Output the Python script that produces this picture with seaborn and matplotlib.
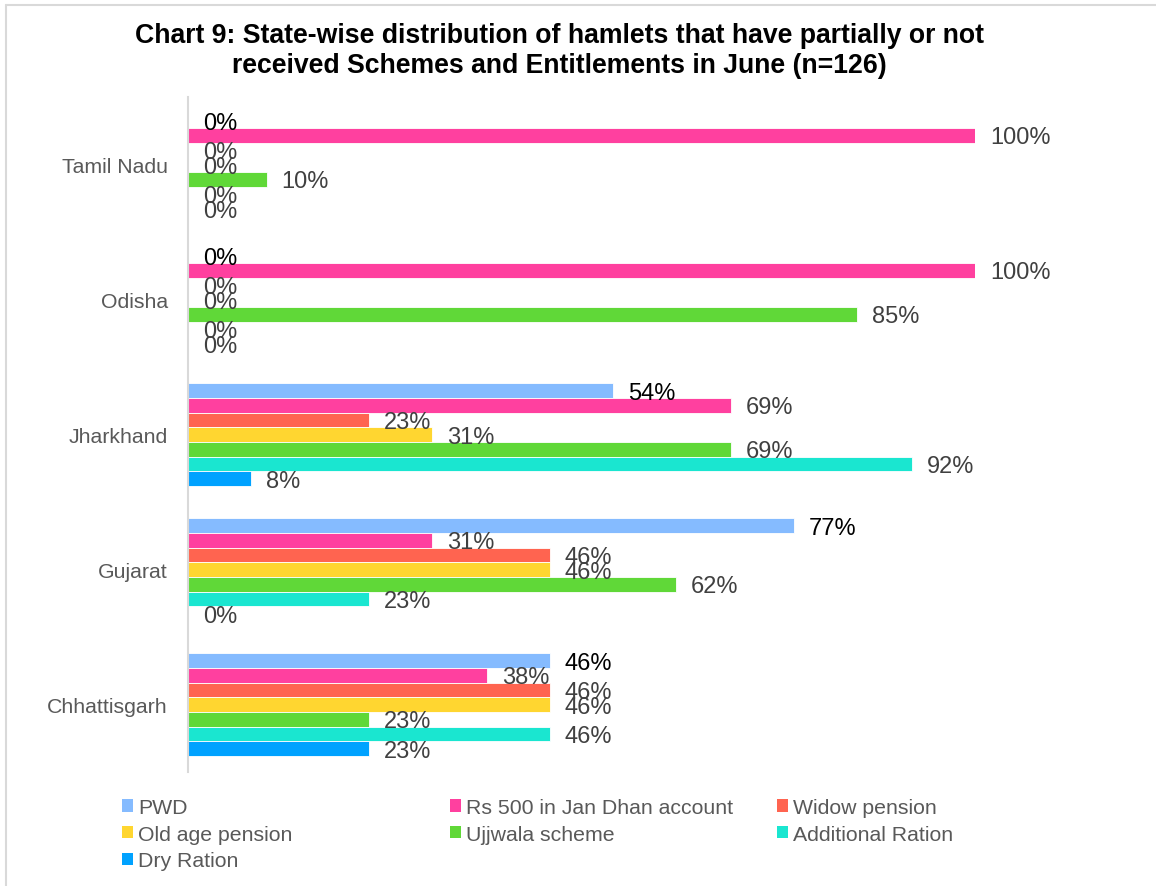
import matplotlib
matplotlib.use("Agg")
import matplotlib.pyplot as plt
import seaborn as sns
import pandas as pd
from matplotlib.patches import Patch
from matplotlib.lines import Line2D

states = ["Tamil Nadu", "Odisha", "Jharkhand", "Gujarat", "Chhattisgarh"]
schemes = ["PWD", "Rs 500 in Jan Dhan account", "Widow pension", "Old age pension",
           "Ujjwala scheme", "Additional Ration", "Dry Ration"]

pwd = [0, 0, 54, 77, 46]
rs500 = [100, 100, 69, 31, 38]
widow = [0, 0, 23, 46, 46]
old_age = [0, 0, 31, 46, 46]
ujjwala = [10, 85, 69, 62, 23]
additional = [0, 0, 92, 23, 46]
dry = [0, 0, 8, 0, 23]

colors = ["#85BBFF", "#FF409F", "#FF6450", "#FFD630", "#60D838", "#1AE6D0", "#00A2FF"]

series = [pwd, rs500, widow, old_age, ujjwala, additional, dry]
df = pd.DataFrame(
    [(st, sc, v) for sc, vals in zip(schemes, series) for st, v in zip(states, vals)],
    columns=["state", "scheme", "value"],
)

sns.set_theme(style="white")
plt.rcParams["font.family"] = ["Liberation Sans", "DejaVu Sans"]

fig = plt.figure(figsize=(11.56, 8.87), dpi=100)
ax = fig.add_axes([0.1626, 0.1285, 0.6808, 0.761])

sns.barplot(
    data=df, y="state", x="value", hue="scheme",
    order=states, hue_order=schemes, palette=colors,
    orient="h", width=0.76, saturation=1, legend=False,
    edgecolor="white", linewidth=0.6, errorbar=None, ax=ax,
)

ax.set_xlim(0, 100)
ax.set_ylim(4.5, -0.5)
ax.set_xlabel("")
ax.set_ylabel("")
ax.set_xticks([])
for s in ["top", "right", "bottom"]:
    ax.spines[s].set_visible(False)
ax.spines["left"].set_color("#D9D9D9")
ax.spines["left"].set_linewidth(1.5)
ax.tick_params(axis="y", length=0, pad=14.4, labelsize=15.3, labelcolor="#595959")

# data labels
for i, cont in enumerate(ax.containers):
    lab_color = "#000000" if i == 0 else "#404040"
    for bar in cont:
        w = bar.get_width()
        yc = bar.get_y() + bar.get_height() / 2
        ax.annotate(f"{w:.0f}%", (w, yc), xytext=(10.8, -1.5), textcoords="offset points",
                    ha="left", va="center", fontsize=17, color=lab_color,
                    annotation_clip=False)

# title
fig.text(0.4836, 1 - 51 / 887,
         "Chart 9: State-wise distribution of hamlets that have partially or not\n"
         "received Schemes and Entitlements in June (n=126)",
         ha="center", va="center", fontsize=19.2, fontweight="bold", color="black",
         linespacing=1.22)

# legend in three columns, row-major like the original
handles = {sc: Patch(facecolor=c, edgecolor="none") for sc, c in zip(schemes, colors)}
legend_cols = [["PWD", "Old age pension", "Dry Ration"],
               ["Rs 500 in Jan Dhan account", "Ujjwala scheme"],
               ["Widow pension", "Additional Ration"]]
col_x = [122 / 1156, 450 / 1156, 777 / 1156]
for names, x in zip(legend_cols, col_x):
    fig.legend([handles[n] for n in names], names, loc="upper left",
               bbox_to_anchor=(x, 1 - 799 / 887), frameon=False, fontsize=15.3,
               labelcolor="#595959", handlelength=0.5, handleheight=0.5,
               handletextpad=0.25, labelspacing=0.36, borderpad=0, borderaxespad=0)

# chart border (top and left visible)
fig.add_artist(Line2D([6 / 1156, 6 / 1156], [0, 1 - 6 / 887], transform=fig.transFigure,
                      color="#D9D9D9", lw=1.5))
fig.add_artist(Line2D([6 / 1156, 1], [1 - 6 / 887, 1 - 6 / 887], transform=fig.transFigure,
                      color="#D9D9D9", lw=1.5))

fig.savefig("out.png", dpi=100)
plt.close(fig)
